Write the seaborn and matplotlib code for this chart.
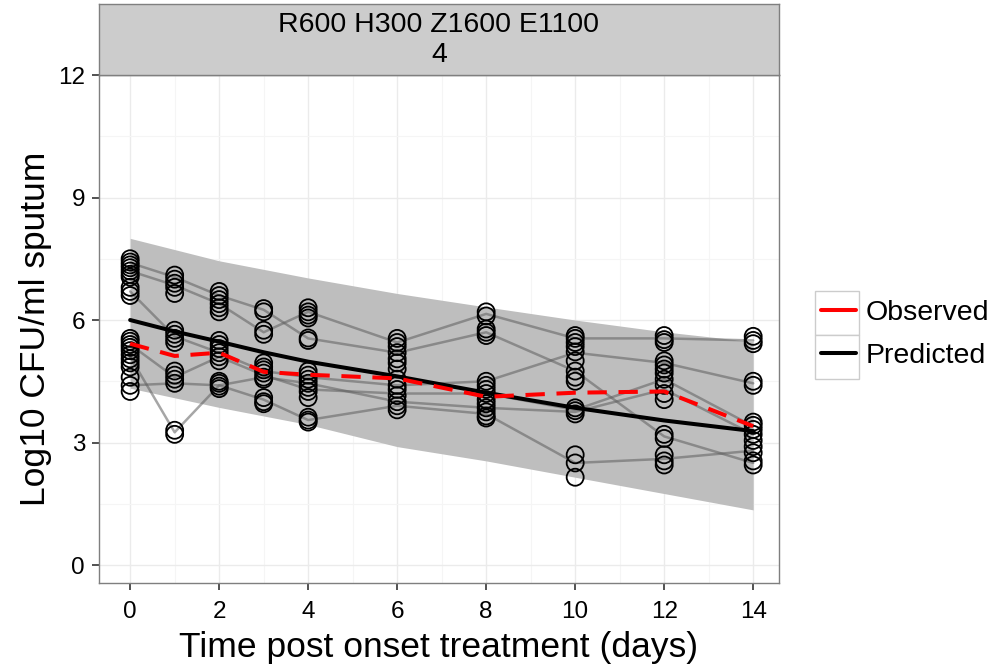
import numpy as np
import pandas as pd
import matplotlib
matplotlib.use("Agg")
import matplotlib.pyplot as plt
from matplotlib.lines import Line2D
from matplotlib.patches import Rectangle
import seaborn as sns

sns.set_style("white")
plt.rcParams['font.family'] = ['Liberation Sans', 'DejaVu Sans']
plt.rcParams['text.color'] = 'black'

# ---------------- data ----------------
days = [0, 1, 2, 3, 4, 6, 8, 10, 12, 14]

obs_points = {
    0: [7.5, 7.42, 7.35, 7.28, 7.2, 7.12, 7.05, 6.8, 6.7, 6.6, 5.55, 5.48, 5.4, 5.33,
        5.25, 5.15, 5.05, 4.95, 4.85, 4.6, 4.4, 4.25],
    1: [7.1, 7.0, 6.9, 6.8, 6.65, 5.75, 5.65, 5.55, 5.45, 4.75, 4.65, 4.55, 4.45, 3.3, 3.2],
    2: [6.7, 6.6, 6.5, 6.4, 6.3, 6.2, 5.5, 5.4, 5.3, 5.2, 5.1, 5.0, 4.5, 4.45, 4.38, 4.32],
    3: [6.28, 6.2, 5.75, 5.65, 4.95, 4.85, 4.78, 4.7, 4.6, 4.55, 4.1, 4.0, 3.95],
    4: [6.3, 6.2, 6.12, 6.05, 5.56, 5.5, 4.75, 4.65, 4.55, 4.45, 4.35, 4.25, 4.1,
        3.62, 3.55, 3.5],
    6: [5.55, 5.45, 5.35, 5.2, 5.05, 4.95, 4.8, 4.55, 4.4, 4.3, 4.15, 4.0, 3.9, 3.8],
    8: [6.2, 6.1, 5.78, 5.7, 5.62, 4.5, 4.4, 4.3, 4.2, 4.05, 3.95, 3.85, 3.75, 3.65, 3.6],
    10: [5.62, 5.55, 5.45, 5.35, 5.22, 5.0, 4.75, 4.6, 4.5, 3.85, 3.78, 3.7, 2.7, 2.5, 2.15],
    12: [5.62, 5.52, 5.45, 5.0, 4.9, 4.8, 4.7, 4.55, 4.4, 4.2, 4.05, 3.2, 3.1, 2.7,
         2.55, 2.45],
    14: [5.6, 5.5, 5.42, 4.5, 4.4, 3.5, 3.42, 3.32, 3.2, 3.05, 2.9, 2.75, 2.55, 2.45],
}

subjects = {
    "S1": [7.4, 7.05, 6.6, 6.25, 5.55, 5.2, 5.7, 4.75, 3.15, 2.5],
    "S2": [7.2, 6.85, 6.4, 5.7, 6.2, 5.45, 6.15, 5.55, 5.55, 5.5],
    "S3": [6.7, 5.6, 5.2, 4.75, 4.6, 4.4, 4.5, 5.2, 4.95, 4.45],
    "S4": [5.4, 4.6, 5.1, 4.65, 4.3, 4.2, 4.2, 3.8, 4.55, 3.4],
    "S5": [5.1, 3.25, 4.4, 4.05, 3.55, 3.9, 3.7, 2.5, 2.6, 2.8],
    "S6": [4.4, 4.45, 4.4, 4.6, 4.45, 4.0, 3.85, 3.75, 4.3, 3.2],
}

observed_mean = [5.42, 5.12, 5.2, 4.73, 4.66, 4.57, 4.12, 4.22, 4.25, 3.4]

pred_days = [0, 1, 2, 3, 4, 6, 8, 10, 12, 14]
predicted = [6.0, 5.72, 5.47, 5.21, 4.98, 4.62, 4.22, 3.85, 3.54, 3.28]

band_days = [0, 2, 4, 6, 8, 10, 12, 14]
band_upper = [8.0, 7.45, 7.03, 6.65, 6.32, 6.0, 5.71, 5.47]
band_lower = [4.33, 3.86, 3.44, 2.9, 2.55, 2.15, 1.75, 1.35]

strip_title = "R600 H300 Z1600 E1100\n4"
x_label = "Time post onset treatment (days)"
y_label = "Log10 CFU/ml sputum"
legend_labels = ["Observed", "Predicted"]

# ---------------- frames ----------------
pts = pd.DataFrame([(d, v) for d in days for v in obs_points[d]], columns=["time", "cfu"])
subj = pd.DataFrame([(s, d, v) for s, vals in subjects.items() for d, v in zip(days, vals)],
                    columns=["id", "time", "cfu"])
obs_df = pd.DataFrame({"time": days, "cfu": observed_mean})
pred_df = pd.DataFrame({"time": pred_days, "cfu": predicted})

# ---------------- figure ----------------
W, H = 1003, 669
fig = plt.figure(figsize=(W / 100, H / 100), dpi=100)

def fx(px):
    return px / W

def fy(py):
    return 1 - py / H

L, R, T, B = 99, 779, 75, 583
ax = fig.add_axes([fx(L), fy(B), fx(R - L), (B - T) / H])
ax.set_facecolor("white")

ax.set_xlim(-0.7, 14.58)
ax.set_ylim(-0.44, 12.0)
ax.set_xticks([0, 2, 4, 6, 8, 10, 12, 14])
ax.set_yticks([0, 3, 6, 9, 12])
ax.set_xticks([1, 3, 5, 7, 9, 11, 13], minor=True)
ax.set_yticks([1.5, 4.5, 7.5, 10.5], minor=True)
ax.grid(True, which="major", color="#EBEBEB", lw=1.0, zorder=0)
ax.grid(True, which="minor", color="#F5F5F5", lw=0.8, zorder=0)
ax.set_axisbelow(True)

ax.fill_between(band_days, band_lower, band_upper, color="#BEBEBE", lw=0, zorder=1)

sns.lineplot(data=subj, x="time", y="cfu", units="id", estimator=None, ax=ax,
             color="#5E5E5E", alpha=0.55, lw=1.8, legend=False, zorder=2)

sns.scatterplot(data=pts, x="time", y="cfu", ax=ax, s=150, facecolor="none",
                edgecolor="black", linewidth=1.3, legend=False, zorder=3)

sns.lineplot(data=pred_df, x="time", y="cfu", ax=ax, color="black", lw=2.9,
             legend=False, zorder=4)
sns.lineplot(data=obs_df, x="time", y="cfu", ax=ax, color="#FF0000", lw=2.9,
             linestyle=(0, (4.8, 2.9)), legend=False, zorder=5)

ax.set_xlabel("")
ax.set_ylabel("")
for s in ax.spines.values():
    s.set_color("#7F7F7F")
    s.set_linewidth(1.0)
ax.tick_params(axis="both", which="major", length=5, width=1.2, color="#333333",
               labelsize=17.5, labelcolor="black", direction="out",
               bottom=True, left=True)
ax.tick_params(axis="x", which="major", pad=8)
ax.tick_params(axis="y", which="major", pad=5)
ax.tick_params(axis="both", which="minor", length=0)

fig.text(fx((L + R) / 2), fy(647), x_label, ha="center", va="center", fontsize=25.5)
fig.text(fx(36), fy((T + B) / 2), y_label, ha="center", va="center", fontsize=25.5,
         rotation=90)

# strip
sax = fig.add_axes([fx(L), fy(T), fx(R - L), (T - 4) / H])
sax.set_facecolor("#CCCCCC")
sax.set_xticks([])
sax.set_yticks([])
for s in sax.spines.values():
    s.set_color("#7F7F7F")
    s.set_linewidth(1.0)
sax.text(0.5, 0.5, strip_title, ha="center", va="center", fontsize=20.5,
         linespacing=1.2, transform=sax.transAxes)

# legend key boxes
for top in (291, 335):
    fig.patches.append(Rectangle((fx(815), fy(top + 44)), fx(44), 44 / H,
                                 transform=fig.transFigure, facecolor="white",
                                 edgecolor="#CCCCCC", lw=1.0, zorder=0))
handles = [Line2D([], [], color="#FF0000", lw=2.9),
           Line2D([], [], color="black", lw=2.9)]
fig.legend(handles, legend_labels, loc="upper left",
           bbox_to_anchor=(fx(812), fy(291)), frameon=False, fontsize=20.5,
           handlelength=1.25, handletextpad=0.33, labelspacing=0.6,
           borderaxespad=0, borderpad=0.3)

fig.savefig("out.png", dpi=100)
